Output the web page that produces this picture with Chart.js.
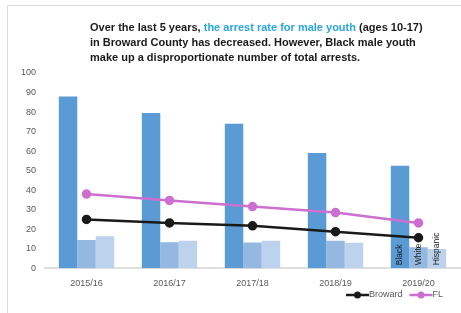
<!DOCTYPE html>
<html>
<head>
<meta charset="utf-8">
<script src="https://cdn.jsdelivr.net/npm/chart.js@4"></script>
<style>
  html, body { margin: 0; padding: 0; background: #fff; }
  #wrap { position: relative; width: 461px; height: 313px; overflow: hidden; }
  #frame { position: absolute; left: 7px; top: 5px; width: 470px; height: 330px;
           border-top: 1px solid #d9d9d9; border-left: 1px solid #d9d9d9; }
  #title { position: absolute; left: 90px; top: 20px; width: 370px;
           font: bold 11px "Liberation Sans", Arial, sans-serif; line-height: 15px; color: #1a1a1a; }
  #title span { color: #29a8e0; }
  canvas { position: absolute; left: 0; top: 0; }
</style>
</head>
<body>
<div id="wrap">
  <div id="frame"></div>
  <canvas id="chart" width="461" height="313"></canvas>
  <div id="title">Over the last 5 years, <span>the arrest rate for male youth</span> (ages 10-17)<br>in Broward County has decreased. However, Black male youth<br>make up a disproportionate number of total arrests.</div>
</div>
<script>
const categories = ['2015/16', '2016/17', '2017/18', '2018/19', '2019/20'];
const blackRates = [88, 79.5, 74, 59, 52.5];
const whiteRates = [14.5, 13.3, 13.2, 14, 10.7];
const hispanicRates = [16.4, 14, 14, 13, 9.8];
const browardRates = [25, 23.2, 21.7, 18.7, 15.6];
const flRates = [38, 34.7, 31.6, 28.5, 23.2];

const FONT = '"Liberation Sans", Arial, sans-serif';

// labels on the last group of bars, rotated
const barLabels = {
    id: 'barLabels',
    afterDatasetsDraw(chart) {
        const ctx = chart.ctx;
        ctx.save();
        ctx.font = '8.5px ' + FONT;
        ctx.fillStyle = '#1a1a1a';
        ctx.textAlign = 'left';
        ctx.textBaseline = 'middle';
        chart.data.datasets.forEach((ds, i) => {
            if (ds.type !== 'bar') return;
            const meta = chart.getDatasetMeta(i);
            const bar = meta.data[meta.data.length - 1];
            ctx.save();
            ctx.translate(bar.x, bar.base - 3);
            ctx.rotate(-Math.PI / 2);
            ctx.fillText(ds.label, 0, 0);
            ctx.restore();
        });
        ctx.restore();
    }
};

// legend for the two lines, bottom right, line with a dot
const lineLegend = {
    id: 'lineLegend',
    afterDraw(chart) {
        const ctx = chart.ctx;
        const lines = chart.data.datasets.filter(ds => ds.type === 'line');
        const y = chart.height - 18;
        let x = chart.width - 18;
        ctx.save();
        ctx.font = '9px ' + FONT;
        ctx.textBaseline = 'middle';
        ctx.textAlign = 'left';
        lines.slice().reverse().forEach(ds => {
            const w = ctx.measureText(ds.label).width;
            ctx.fillStyle = '#595959';
            ctx.fillText(ds.label, x - w, y);
            const end = x - w;
            const start = end - 23;
            ctx.strokeStyle = ds.borderColor;
            ctx.lineWidth = 2.5;
            ctx.beginPath();
            ctx.moveTo(start, y);
            ctx.lineTo(end, y);
            ctx.stroke();
            ctx.fillStyle = ds.borderColor;
            ctx.beginPath();
            ctx.arc((start + end) / 2, y, 3.5, 0, Math.PI * 2);
            ctx.fill();
            x = start - 7;
        });
        ctx.restore();
    }
};

const ctx = document.getElementById('chart').getContext('2d');
new Chart(ctx, {
    data: {
        labels: categories,
        datasets: [
            { type: 'line', label: 'Broward', data: browardRates, borderColor: '#1a1a1a', backgroundColor: '#1a1a1a',
              borderWidth: 2.5, pointRadius: 3.5, pointBackgroundColor: '#1a1a1a', order: 0 },
            { type: 'line', label: 'FL', data: flRates, borderColor: '#cc6fd0', backgroundColor: '#cc6fd0',
              borderWidth: 2.5, pointRadius: 3.5, pointBackgroundColor: '#cc6fd0', order: 0 },
            { type: 'bar', label: 'Black', data: blackRates, backgroundColor: '#5b9bd5', order: 1 },
            { type: 'bar', label: 'White', data: whiteRates, backgroundColor: '#94b8e0', order: 1 },
            { type: 'bar', label: 'Hispanic', data: hispanicRates, backgroundColor: '#bdd3ed', order: 1 }
        ]
    },
    options: {
        responsive: false,
        animation: false,
        layout: {
            autoPadding: false,
            padding: { top: 73, right: 1, bottom: 14, left: 12 }
        },
        datasets: {
            bar: { categoryPercentage: 0.667, barPercentage: 1 }
        },
        plugins: {
            legend: { display: false },
            tooltip: { enabled: false }
        },
        scales: {
            x: {
                grid: { display: false, drawTicks: false },
                border: { color: '#dedede', width: 2 },
                ticks: { color: '#595959', padding: 10, font: { family: FONT, size: 9 }, maxRotation: 0 }
            },
            y: {
                min: 0,
                max: 100,
                grid: { display: false, drawTicks: false },
                border: { display: false },
                ticks: { stepSize: 10, color: '#595959', padding: 9, font: { family: FONT, size: 9 } }
            }
        }
    },
    plugins: [barLabels, lineLegend]
});
</script>
</body>
</html>
